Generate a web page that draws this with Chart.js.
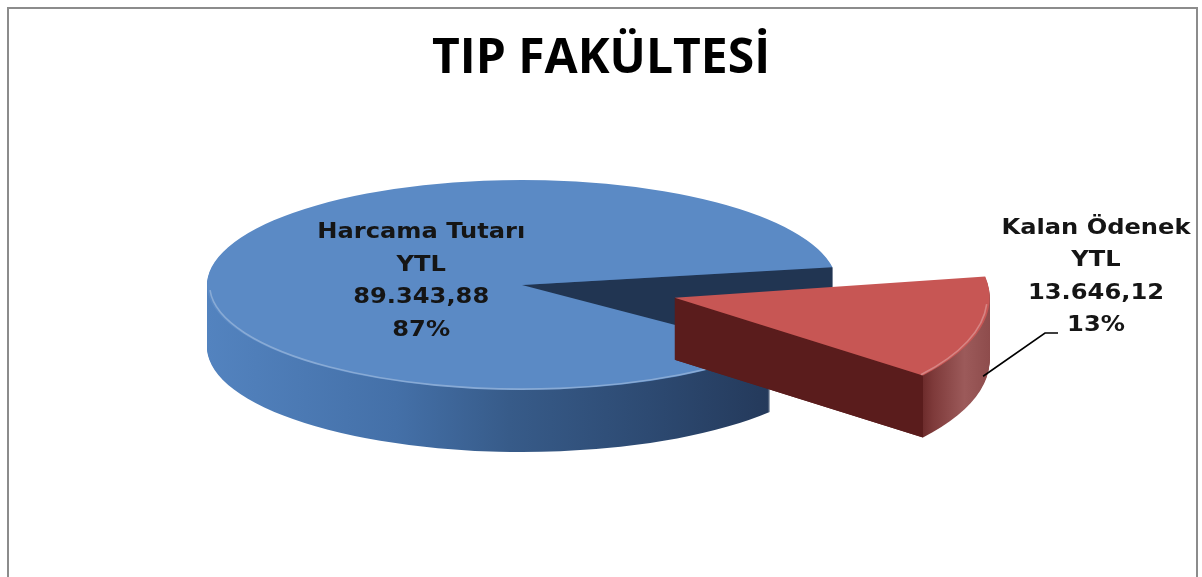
<!DOCTYPE html>
<html><head><meta charset="utf-8">
<script src="https://cdn.jsdelivr.net/npm/chart.js@4"></script>
<style>
html,body{margin:0;padding:0;background:#fff;overflow:hidden;width:1202px;height:577px}
#frame{position:absolute;left:7px;top:7px;width:1187px;height:640px;border:2px solid #8c8c8c}
#c{position:absolute;left:0;top:0}
</style></head><body>
<div id="frame"></div>
<canvas id="c" width="1202" height="577"></canvas>
<script>
// ---- data ----
const categories = ['Harcama Tutarı', 'Kalan Ödenek'];
const currencyLabels = ['YTL', 'YTL'];
const amounts = [89343.88, 13646.12];
const chartTitle = 'TIP FAKÜLTESİ';

// ---- style / layout ----
const LAYOUT = { cx: 522, cy: 285, rx: 315, ry: 105, depth: 62 };
const explode = [0, 0.5];
const ryScale = [1, 1.2];
const topColors = ['#5b8ac5', '#c75654'];
const cutColors = ['#213552', '#5a1c1c'];
const sideStops = [
  [[0, '#5383bf'], [0.3, '#4470a8'], [0.48, '#375b89'], [0.7, '#2d4a72'], [0.9, '#24395a'], [1, '#1f3350']],
  [[0, '#5a1c1c'], [0.88, '#5e1f1f'], [0.91, '#7e3a3a'], [0.96, '#9c5a5a'], [1, '#8e4c4c']]
];
const labelFont = 'bold 21px "DejaVu Sans"';
const labelStretch = 1.15;
const labelLineH = 32.5;
const outsideLabel = { x: 1096, y: 277 };

function trNum(v) {
  const parts = v.toFixed(2).split('.');
  return parts[0].replace(/\B(?=(\d{3})+(?!\d))/g, '.') + ',' + parts[1];
}
const total = amounts.reduce((a, b) => a + b, 0);

function frameOf(el, i) {
  const R = el.outerRadius;
  const mid = (el.startAngle + el.endAngle) / 2;
  return { R, mid, sx: LAYOUT.rx / R, sy: LAYOUT.ry * ryScale[i] / R,
           ox: Math.cos(mid) * explode[i] * R, oy: Math.sin(mid) * explode[i] * R / ryScale[i] };
}
function applyFrame(ctx, el, f, dy) {
  ctx.translate(LAYOUT.cx, LAYOUT.cy + dy);
  ctx.scale(f.sx, f.sy);
  ctx.translate(-el.x + f.ox, -el.y + f.oy);
}
function toScreen(el, f, a, rr, dy) {
  return { x: LAYOUT.cx + f.sx * (Math.cos(a) * rr + f.ox),
           y: LAYOUT.cy + f.sy * (Math.sin(a) * rr + f.oy) + (dy || 0) };
}
function slicePath(ctx, el) {
  ctx.beginPath();
  ctx.moveTo(el.x, el.y);
  ctx.arc(el.x, el.y, el.outerRadius, el.startAngle, el.endAngle);
  ctx.closePath();
}

const pie3d = {
  id: 'pie3d',
  beforeDatasetsDraw(chart) {
    const ctx = chart.ctx;
    const meta = chart.getDatasetMeta(0);
    const D = LAYOUT.depth;
    meta.data.forEach((el, i) => {
      const f = frameOf(el, i);
      // outer sides: stacked layers
      for (let d = D; d >= 1; d--) {
        ctx.save();
        applyFrame(ctx, el, f, d);
        const g = ctx.createLinearGradient(el.x - f.R, 0, el.x + f.R, 0);
        sideStops[i].forEach(s => g.addColorStop(s[0], s[1]));
        ctx.fillStyle = g;
        slicePath(ctx, el);
        ctx.fill();
        ctx.restore();
      }
      // visible radial cut faces
      const apex = toScreen(el, f, 0, 0, 0);
      [[el.startAngle, -1], [el.endAngle, 1]].forEach(([a, s]) => {
        if (Math.sin(a + s * Math.PI / 2) <= 0) return;
        const e = toScreen(el, f, a, f.R, 0);
        ctx.save();
        ctx.fillStyle = cutColors[i];
        ctx.beginPath();
        ctx.moveTo(apex.x, apex.y);
        ctx.lineTo(e.x, e.y);
        ctx.lineTo(e.x, e.y + D);
        ctx.lineTo(apex.x, apex.y + D);
        ctx.closePath();
        ctx.fill();
        ctx.restore();
      });
      // top face
      ctx.save();
      applyFrame(ctx, el, f, 0);
      ctx.fillStyle = topColors[i];
      slicePath(ctx, el);
      ctx.fill();
      ctx.beginPath();
      for (let k = -1; k <= 2; k++) {
        const a0 = Math.max(el.startAngle, 2 * Math.PI * k + 0.05);
        const a1 = Math.min(el.endAngle, 2 * Math.PI * k + Math.PI - 0.05);
        if (a1 > a0) {
          ctx.moveTo(el.x + Math.cos(a0) * (el.outerRadius - 2), el.y + Math.sin(a0) * (el.outerRadius - 2));
          ctx.arc(el.x, el.y, el.outerRadius - 2, a0, a1);
        }
      }
      ctx.restore();
      ctx.save();
      ctx.strokeStyle = 'rgba(255,255,255,0.28)';
      ctx.lineWidth = 1.6;
      ctx.stroke();
      ctx.restore();
    });
    return false;
  },
  afterDraw(chart) {
    const ctx = chart.ctx;
    const meta = chart.getDatasetMeta(0);
    meta.data.forEach((el, i) => {
      const f = frameOf(el, i);
      const lines = [categories[i], currencyLabels[i], trNum(amounts[i]), Math.round(amounts[i] / total * 100) + '%'];
      let c;
      if (i === 0) {
        c = toScreen(el, f, f.mid, f.R * 0.33, 5);
      } else {
        c = outsideLabel;
        const a = el.startAngle + (el.endAngle - el.startAngle) * 0.45;
        const p = toScreen(el, f, a, f.R, LAYOUT.depth * 0.85);
        ctx.save();
        ctx.strokeStyle = '#000';
        ctx.lineWidth = 1.6;
        ctx.beginPath();
        ctx.moveTo(p.x, p.y);
        ctx.lineTo(c.x - 51, c.y + 56);
        ctx.lineTo(c.x - 38, c.y + 56);
        ctx.stroke();
        ctx.restore();
      }
      ctx.save();
      ctx.font = labelFont;
      ctx.fillStyle = '#151515';
      ctx.textAlign = 'center';
      ctx.textBaseline = 'middle';
      ctx.translate(c.x, c.y);
      ctx.scale(labelStretch, 1);
      lines.forEach((t, j) => ctx.fillText(t, 0, (j - 1.5) * labelLineH));
      ctx.restore();
    });
  }
};

new Chart(document.getElementById('c'), {
  type: 'pie',
  data: { labels: categories, datasets: [{ data: amounts, backgroundColor: topColors, borderWidth: 0 }] },
  options: {
    responsive: false,
    animation: false,
    rotation: 128,
    layout: { padding: 0 },
    plugins: {
      legend: { display: false },
      tooltip: { enabled: false },
      title: { display: true, text: chartTitle, color: '#000',
               font: { family: 'Open Sans', size: 48, weight: 'bold' }, padding: { top: 31, bottom: 10 } }
    }
  },
  plugins: [pie3d]
});
</script>
</body></html>
